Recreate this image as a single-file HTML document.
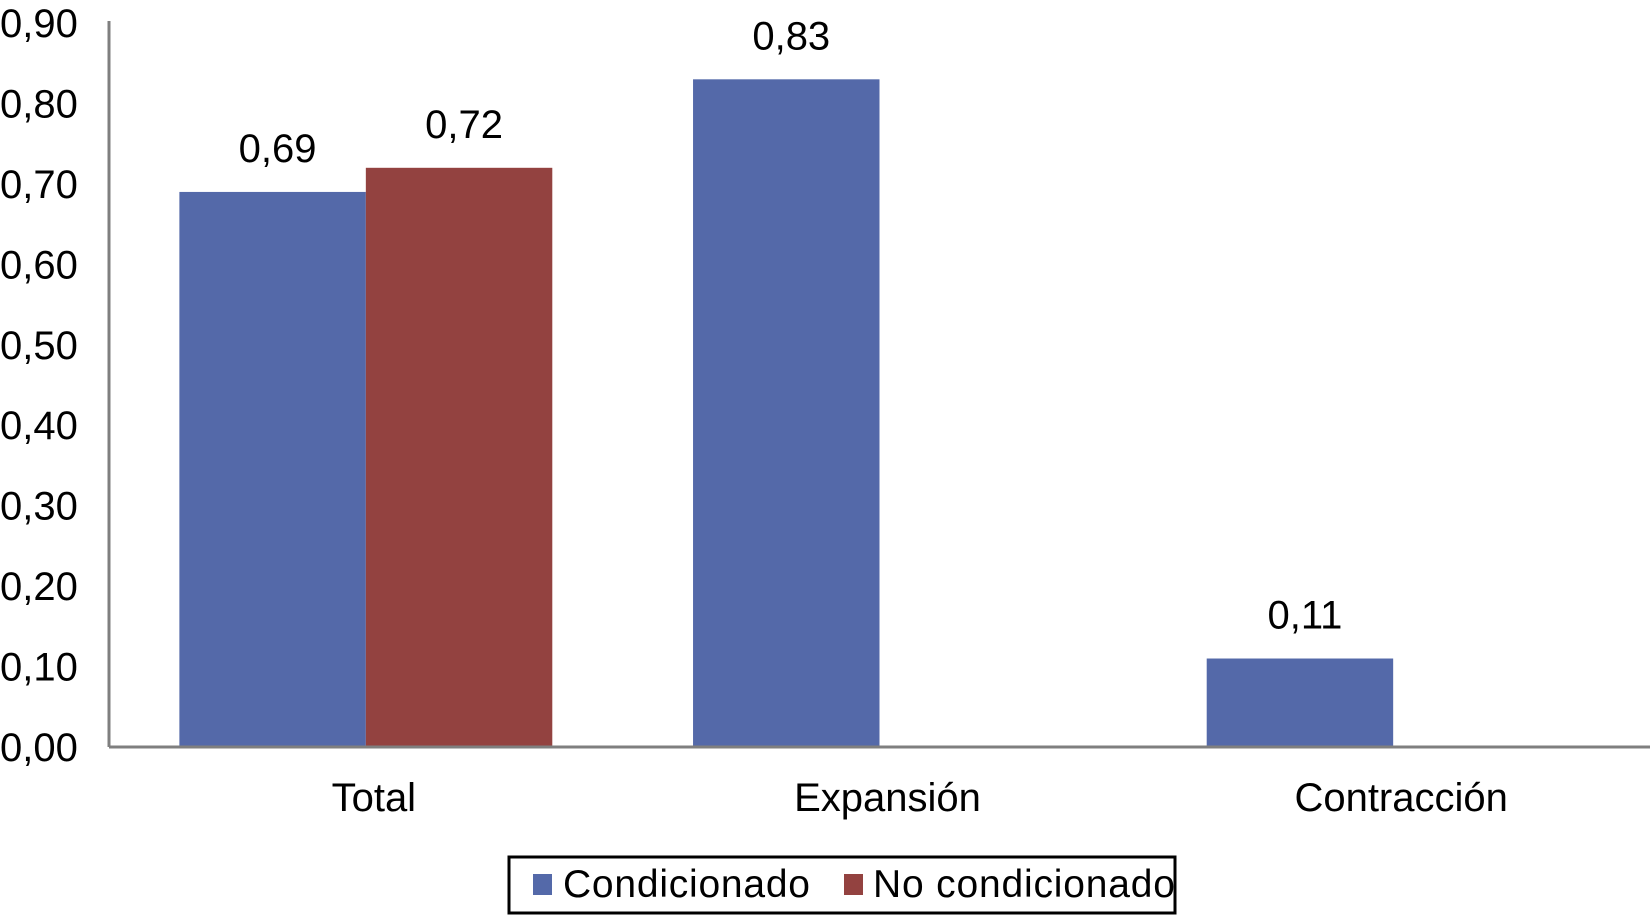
<!DOCTYPE html>
<html><head><meta charset="utf-8"><style>
html,body{margin:0;padding:0;background:#fff;}
svg{display:block;font-family:"Liberation Sans",Arial,sans-serif;}
</style></head><body>
<svg id="chart" width="1650" height="917" viewBox="0 0 1650 917" xmlns="http://www.w3.org/2000/svg">
<g id="grid"></g>
<g id="bars"></g>
<g id="labels"></g>
<g id="legend">
  <rect x="509" y="857" width="666" height="56" fill="#fff" stroke="#000" stroke-width="3"/>
  <rect x="533" y="874" width="19" height="21" fill="#5469a9"/>
  <text x="563" y="897" font-size="39" fill="#000" textLength="247">Condicionado</text>
  <rect x="844" y="874" width="19" height="21" fill="#934240"/>
  <text x="873" y="897" font-size="39" fill="#000" textLength="302">No condicionado</text>
</g>
</svg>
<script>
const categories = ["Total", "Expansión", "Contracción"];
const condicionado = [0.69, 0.83, 0.11];
const noCondicionado = [0.72, null, null];
const yTicks = [0, 0.1, 0.2, 0.3, 0.4, 0.5, 0.6, 0.7, 0.8, 0.9];
const yTickLabels = ["0,00","0,10","0,20","0,30","0,40","0,50","0,60","0,70","0,80","0,90"];

const NS = "http://www.w3.org/2000/svg";
const plotLeft = 109, plotRight = 1650, plotTop = 23, plotBottom = 747, yMax = 0.9;
function yScale(v){ return plotBottom - v / yMax * (plotBottom - plotTop); }
const catW = (plotRight - plotLeft) / categories.length;
function xCenter(i){ return plotLeft + catW * (i + 0.5); }
const barW = catW * 0.363;
function mk(tag, attrs, parent){ const e = document.createElementNS(NS, tag); for (const k in attrs) e.setAttribute(k, attrs[k]); parent.appendChild(e); return e; }
function fmt(v){ return v.toFixed(2).replace(".", ","); }

const gridG = document.getElementById("grid");
const barsG = document.getElementById("bars");
const labelsG = document.getElementById("labels");

yTicks.forEach((t, i) => {
  const tx = mk("text", {x: 0, y: yScale(t) + 14, "font-size": 40, fill: "#000"}, labelsG);
  tx.textContent = yTickLabels[i];
  
  
});

const series = [
  {vals: condicionado, color: "#5469a9", name: "condicionado", off: -1},
  {vals: noCondicionado, color: "#934240", name: "no-condicionado", off: 0}
];
series.forEach(s => {
  s.vals.forEach((v, i) => {
    if (v === null || v === undefined) return;
    const x0 = xCenter(i) + s.off * barW;
    const r = mk("rect", {x: x0, y: yScale(v), width: barW, height: plotBottom - yScale(v), fill: s.color}, barsG);
    
    
    const t = mk("text", {x: x0 + barW / 2 + 5, y: yScale(v) - 30, "font-size": 40, fill: "#000", "text-anchor": "middle"}, labelsG);
    t.textContent = fmt(v);
    
    
  });
});

categories.forEach((c, i) => {
  const t = mk("text", {x: xCenter(i) + 8, y: 811, "font-size": 40, fill: "#000", "text-anchor": "middle"}, labelsG);
  t.textContent = c;
  
  
});

const ya = mk("line", {x1: plotLeft, y1: plotTop - 2, x2: plotLeft, y2: plotBottom, stroke: "#7f7f7f", "stroke-width": 3}, gridG);


const xa = mk("line", {x1: plotLeft, y1: plotBottom, x2: plotRight, y2: plotBottom, stroke: "#7f7f7f", "stroke-width": 3}, labelsG);


</script>
</body></html>
